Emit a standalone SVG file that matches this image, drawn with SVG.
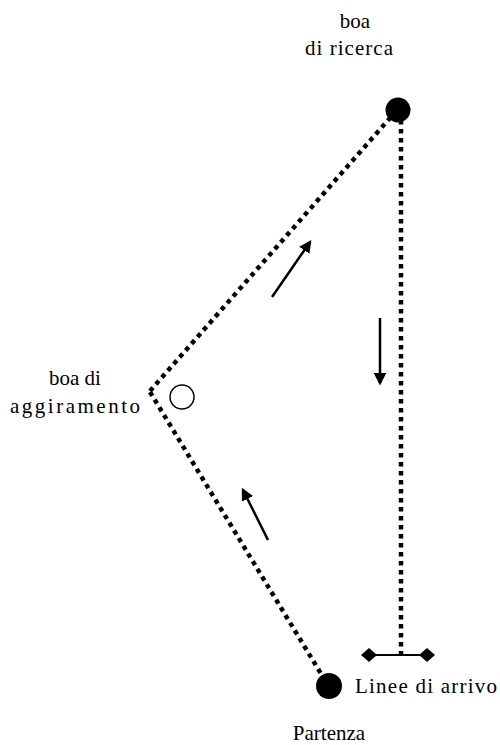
<svg xmlns="http://www.w3.org/2000/svg" width="500" height="745" viewBox="0 0 500 745">
<style>
.dot{stroke:#000;stroke-width:4.5;stroke-dasharray:4.5 4.5;fill:none}
.arr{stroke:#000;stroke-width:2.5;fill:none;marker-end:url(#ah)}
.t{font-family:'Liberation Serif','Times New Roman',serif;font-size:21px;fill:#000}
</style>
<defs>
<marker id="ah" viewBox="0 0 10 10" refX="8" refY="5" markerWidth="5" markerHeight="5" orient="auto" markerUnits="strokeWidth">
<path d="M0,0 L10,5 L0,10 z" fill="#000"/>
</marker>
</defs>
<rect width="500" height="745" fill="#fff"/>
<g id="connectors">
<line class="dot" x1="150" y1="391" x2="390" y2="118"/>
<line class="dot" x1="150" y1="392" x2="323" y2="677"/>
<line class="dot" x1="401" y1="120" x2="401" y2="655"/>
<line class="arr" x1="272" y1="297" x2="310" y2="242"/>
<line class="arr" x1="380" y1="318" x2="380" y2="383"/>
<line class="arr" x1="268" y1="540" x2="243" y2="490"/>
</g>
<g id="boa-ricerca">
<circle cx="398" cy="110" r="12.5" fill="#000"/>
<text class="t" x="355" y="28" text-anchor="middle">boa</text>
<text class="t" x="349" y="55" text-anchor="middle" textLength="88">di ricerca</text>
</g>
<g id="boa-aggiramento">
<circle cx="182" cy="397" r="12" fill="#fff" stroke="#000" stroke-width="1.5"/>
<text class="t" x="75" y="385" text-anchor="middle">boa di</text>
<text class="t" x="75" y="413" text-anchor="middle" textLength="130">aggiramento</text>
</g>
<g id="partenza">
<circle cx="329" cy="686" r="13" fill="#000"/>
<text class="t" x="329" y="740" text-anchor="middle">Partenza</text>
</g>
<g id="arrivo">
<line x1="370" y1="655" x2="428" y2="655" stroke="#000" stroke-width="2"/>
<path d="M361,655 l8,-7 l8,7 l-8,7 z" fill="#000"/>
<path d="M419,655 l8,-7 l8,7 l-8,7 z" fill="#000"/>
<text class="t" x="355" y="693" textLength="142">Linee di arrivo</text>
</g>
</svg>
